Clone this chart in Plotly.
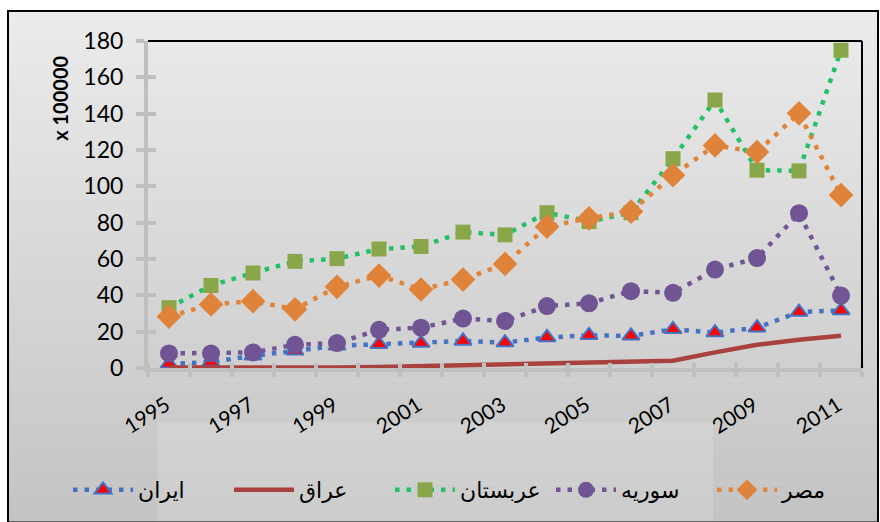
import plotly.graph_objects as go

years = list(range(1995, 2012))
iran = [2.2, 3.3, 6.7, 9.5, 12.2, 13.1, 13.7, 14.9, 14.0, 16.8, 18.0, 17.7, 21.3, 19.5, 22.2, 30.8, 31.7]
iraq = [0.3, 0.2, 0.2, 0.2, 0.3, 0.5, 1.0, 1.8, 2.4, 2.7, 3.1, 3.5, 4.0, 8.6, 12.8, 15.5, 17.7]
saudi = [33.2, 45.4, 52.3, 58.7, 60.2, 65.5, 66.9, 74.8, 73.3, 85.5, 80.6, 85.5, 115.2, 147.5, 108.9, 108.5, 174.9]
syria = [8.0, 8.0, 8.6, 12.8, 13.7, 21.0, 22.2, 27.2, 25.9, 34.1, 35.6, 42.3, 41.4, 54.2, 60.5, 85.2, 39.9]
egypt = [28.3, 35.0, 36.8, 32.3, 44.7, 50.9, 43.2, 48.7, 57.3, 77.8, 82.4, 86.1, 106.1, 122.5, 118.9, 140.2, 95.2]
names = ["ایران", "عراق", "عربستان", "سوریه", "مصر"]
tick_years = [1995, 1997, 1999, 2001, 2003, 2005, 2007, 2009, 2011]
y_ticks = [0, 20, 40, 60, 80, 100, 120, 140, 160, 180]

W, H = 880, 522
L, R, T, B = 148, 18, 41, 153
pw, ph = W - L - R, H - T - B


def px(x):
    return (x - L) / pw


def py(y):
    return (H - B - y) / ph


DASH = "4.5px,7px"
LW = 4.5
fig = go.Figure()
fig.add_trace(go.Scatter(x=years, y=iran, name=names[0], mode="lines+markers",
                         line=dict(color="#4472c4", width=LW, dash=DASH),
                         marker=dict(symbol="triangle-up", size=15, color="#ff0000",
                                     line=dict(color="#4472c4", width=2))))
fig.add_trace(go.Scatter(x=years, y=iraq, name=names[1], mode="lines",
                         line=dict(color="#a9423e", width=4.5)))
fig.add_trace(go.Scatter(x=years, y=saudi, name=names[2], mode="lines+markers",
                         line=dict(color="#22c168", width=LW, dash=DASH),
                         marker=dict(symbol="square", size=15, color="#8aa64b")))
fig.add_trace(go.Scatter(x=years, y=syria, name=names[3], mode="lines+markers",
                         line=dict(color="#735595", width=LW, dash=DASH),
                         marker=dict(symbol="circle", size=18, color="#705493")))
fig.add_trace(go.Scatter(x=years, y=egypt, name=names[4], mode="lines+markers",
                         line=dict(color="#e0843a", width=LW, dash=DASH),
                         marker=dict(symbol="diamond", size=19, color="#df833a")))
# helper trace for the inner half of the crossing tick marks
fig.add_trace(go.Scatter(x=[], y=[], xaxis="x2", yaxis="y2", showlegend=False, hoverinfo="skip"))

shapes = []
# gradient background of chart area
top, bot = 11, 523
n = 40
c0, c1 = 236, 195
for i in range(n):
    ya = top + (bot - top) * i / n
    yb = top + (bot - top) * (i + 1) / n
    c = round(c0 + (c1 - c0) * (i + 0.5) / n)
    shapes.append(dict(type="rect", xref="paper", yref="paper", layer="below",
                       x0=px(8), x1=px(879), y0=py(ya), y1=py(yb + 0.5),
                       fillcolor=f"rgb({c},{c},{c})", line=dict(width=0)))
# faint watermark box
shapes.append(dict(type="rect", xref="paper", yref="paper", layer="below",
                   x0=px(158), x1=px(713), y0=py(423), y1=py(523),
                   fillcolor="rgba(255,255,255,0.15)", line=dict(width=0)))
# outer border
shapes.append(dict(type="rect", xref="paper", yref="paper", layer="below",
                   x0=px(8), x1=px(878), y0=py(11), y1=py(524),
                   fillcolor="rgba(0,0,0,0)", line=dict(color="black", width=2)))
# plot area border top & right
shapes.append(dict(type="line", xref="paper", yref="paper", layer="above",
                   x0=0, x1=1, y0=1, y1=1, line=dict(color="black", width=2)))
shapes.append(dict(type="line", xref="paper", yref="paper", layer="above",
                   x0=1, x1=1, y0=0, y1=1, line=dict(color="black", width=2)))

GRAY = "#bfbfbf"
FONT = "Lato, DejaVu Sans, sans-serif"
minor_vals = [y - 0.5 for y in years] + [years[-1] + 0.5]
xrange_ = [years[0] - 0.5, years[-1] + 0.5]

fig.update_layout(
    width=W, height=H,
    margin=dict(l=L, r=R, t=T, b=B, pad=0),
    paper_bgcolor="white", plot_bgcolor="white",
    shapes=shapes,
    font=dict(family=FONT, color="black", size=21),
    xaxis=dict(range=xrange_, tickmode="array", tickvals=tick_years,
               ticktext=[str(y) for y in tick_years], tickangle=-32,
               ticks="", showline=True, linecolor=GRAY, linewidth=4,
               showgrid=False, zeroline=False, ticklabelstandoff=13,
               ticklabelshift=-3,
               tickfont=dict(size=21, family=FONT, color="black"),
               minor=dict(tickmode="array", tickvals=minor_vals, ticks="outside",
                          ticklen=5, tickwidth=4, tickcolor=GRAY)),
    yaxis=dict(range=[0, 180], tickmode="array", tickvals=y_ticks,
               ticks="outside", ticklen=8, tickwidth=4, tickcolor=GRAY,
               showline=True, linecolor=GRAY, linewidth=4, showgrid=False,
               zeroline=False, ticklabelstandoff=8,
               tickfont=dict(size=23, family=FONT, color="black")),
    xaxis2=dict(range=xrange_, overlaying="x", anchor="y2", side="bottom",
                showticklabels=False, ticks="", showline=False, showgrid=False,
                zeroline=False,
                minor=dict(tickmode="array", tickvals=minor_vals, ticks="inside",
                           ticklen=5, tickwidth=4, tickcolor=GRAY)),
    yaxis2=dict(range=[0, 180], overlaying="y", anchor="x2", side="left",
                tickmode="array", tickvals=y_ticks, ticks="inside", ticklen=8,
                tickwidth=4, tickcolor=GRAY, showticklabels=False,
                showline=False, showgrid=False, zeroline=False),
    legend=dict(orientation="h", x=px(68), xanchor="left", y=py(490),
                yanchor="middle", bgcolor="rgba(0,0,0,0)", itemwidth=60,
                entrywidth=86, entrywidthmode="pixels",
                font=dict(size=22, family=FONT, color="black")),
    annotations=[dict(text="<b>x 100000</b>", xref="paper", yref="paper",
                      x=px(60), y=py(99), xanchor="center", yanchor="middle",
                      textangle=-90, showarrow=False,
                      font=dict(size=20, family=FONT, color="black"))],
    showlegend=True,
)

fig.write_html("out.html", config={"displayModeBar": False},
               post_script="document.body.style.margin='0';document.body.style.padding='0';")
